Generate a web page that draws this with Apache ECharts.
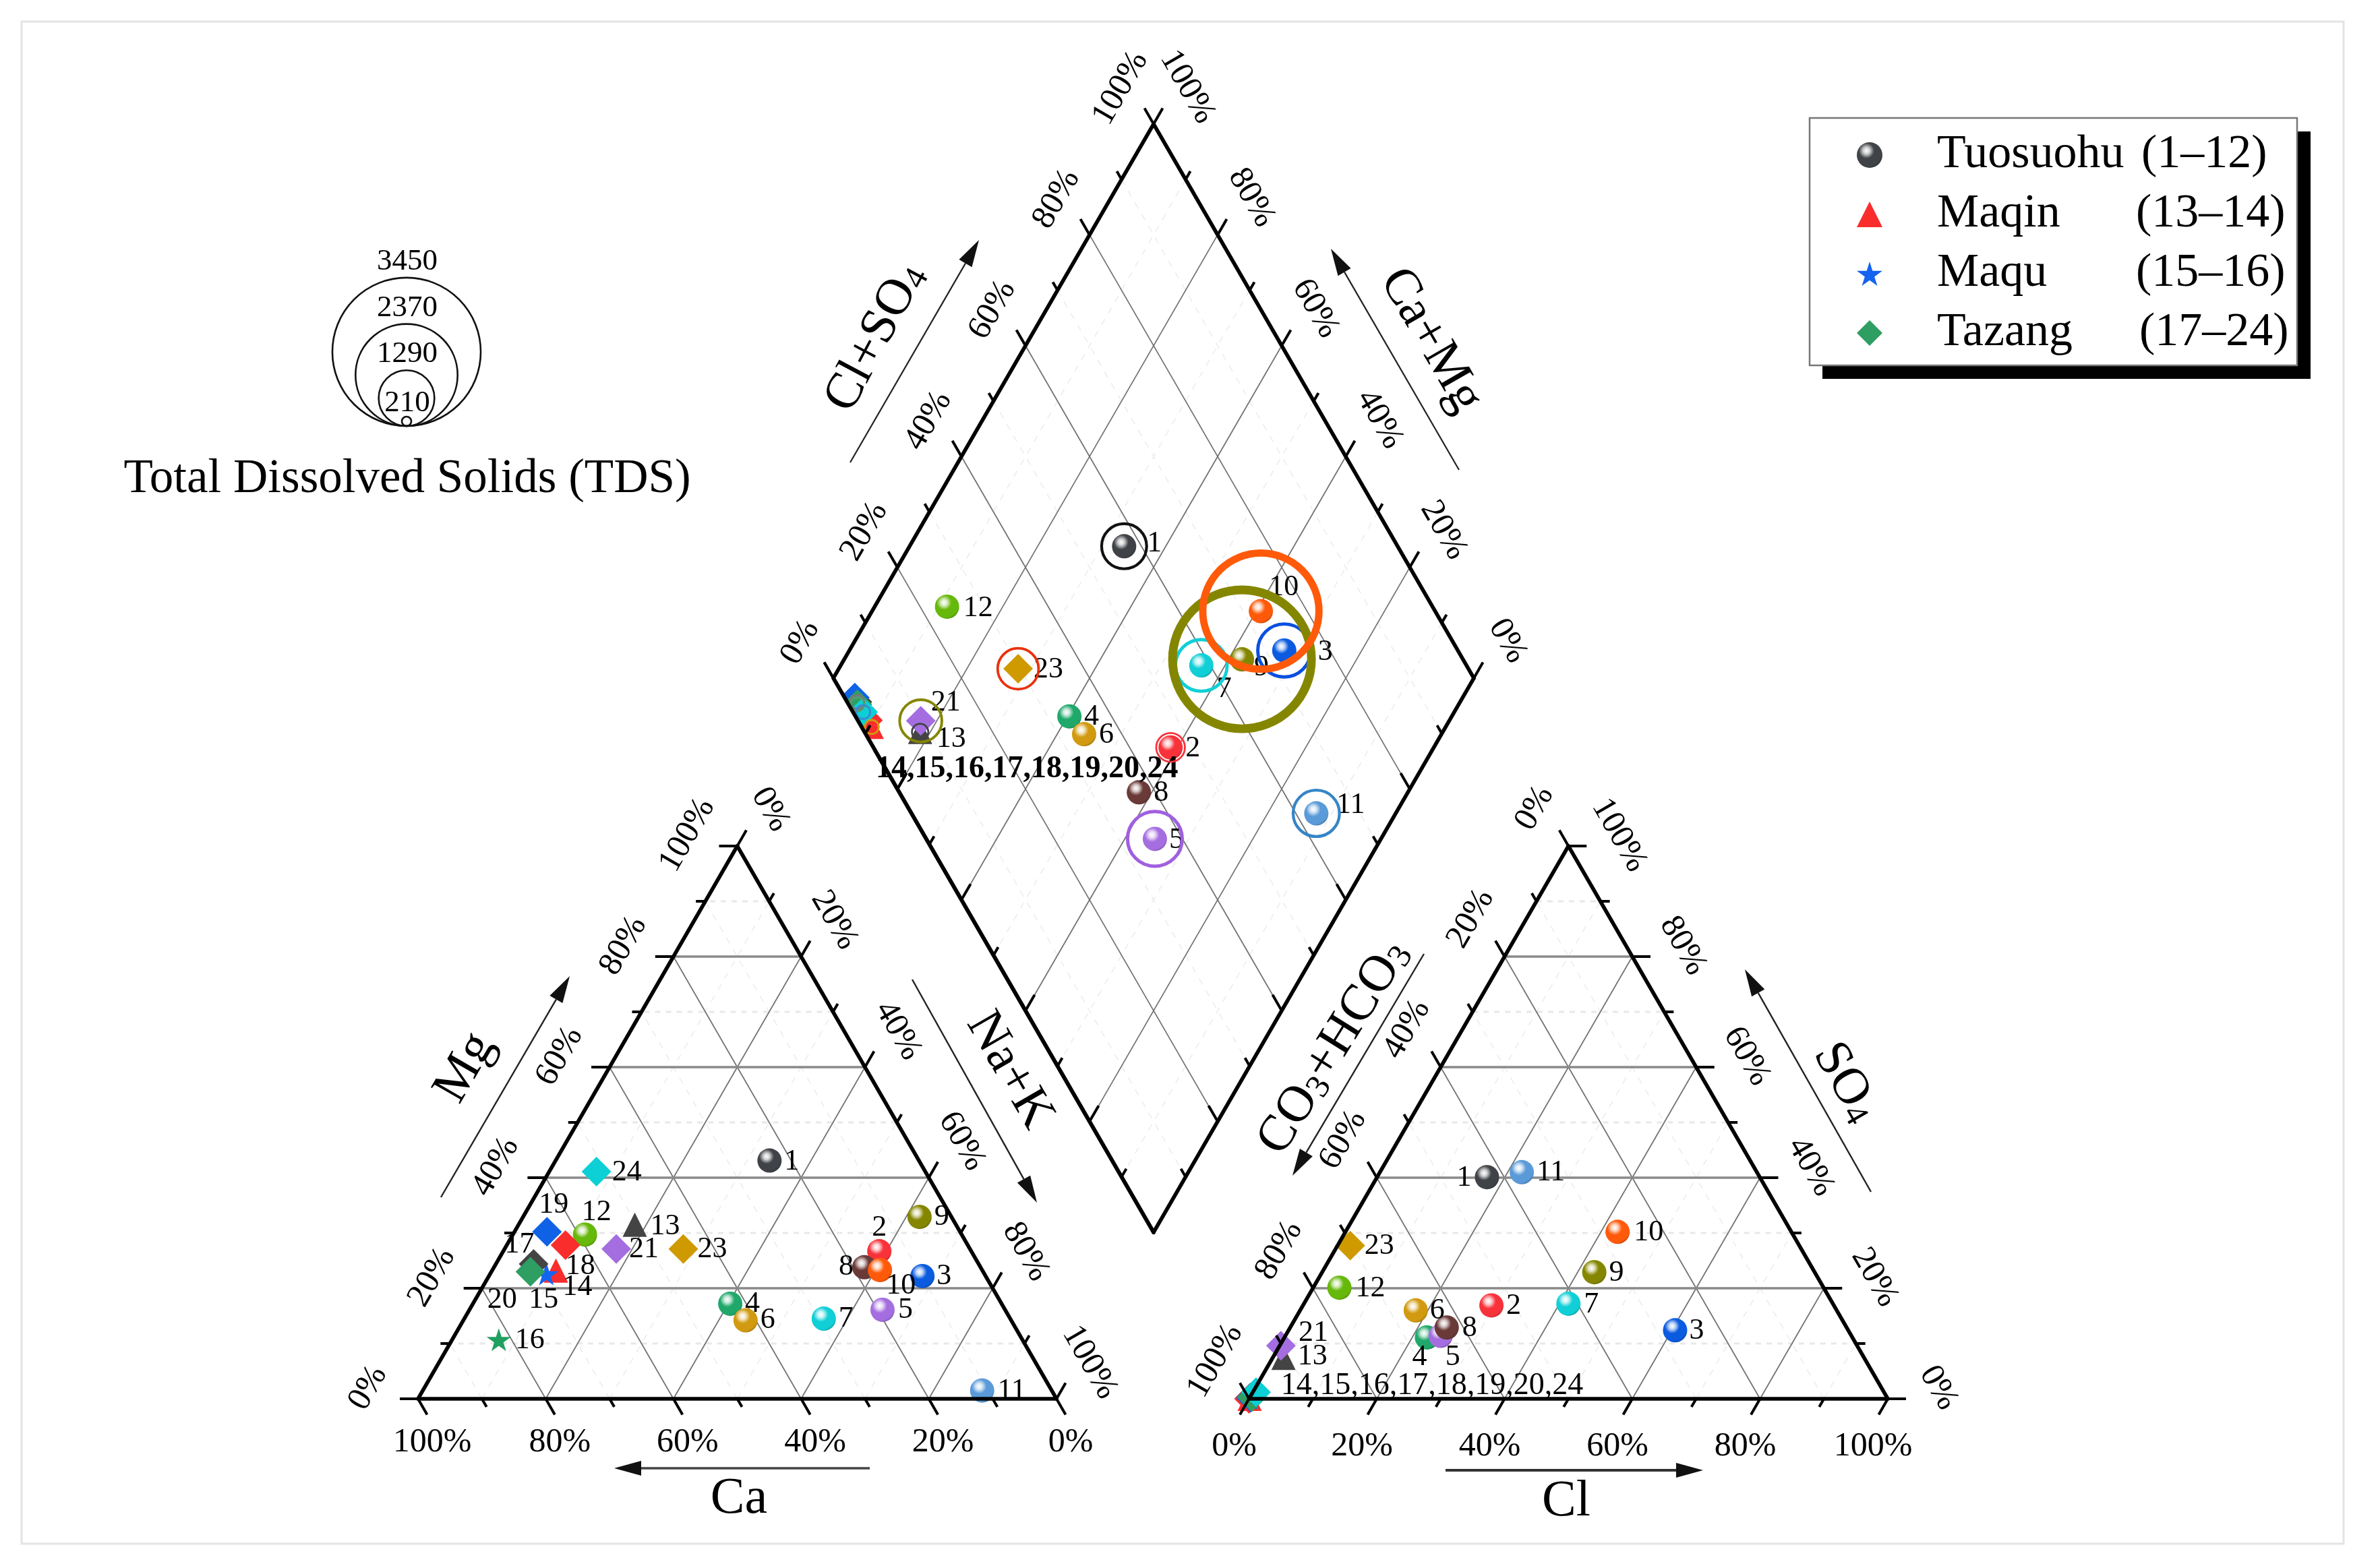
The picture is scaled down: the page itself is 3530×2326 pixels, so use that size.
<!DOCTYPE html>
<html><head><meta charset="utf-8">
<style>html,body{margin:0;padding:0;background:#fff}#c{width:3530px;height:2326px}</style>
<script src="https://cdn.jsdelivr.net/npm/echarts@6/dist/echarts.min.js"></script>
</head><body><div id="c"></div>
<script>
// ---------- values ----------
const sampleIds = [1,2,3,4,5,6,7,8,9,10,11,12,13,14,15,16,17,18,19,20,21,23,24];
const caPct  = [23.4,14.4,9.9,42.5,19.2,41.6,29.2,18.2,5.0,16.0,10.9,59.0,50.3,66.8,68.6,82.0,69.7,63.0,64.7,70.9,55.4,44.9,51.5];
const mgPct  = [43.1,26.7,22.2,17.2,16.1,14.2,14.5,23.8,32.9,23.3,1.5,29.7,31.5,23.2,22.6,10.7,24.4,27.8,30.2,23.0,27.1,27.1,41.1];
const clPct  = [17.2,29.5,60.5,22.3,24.3,18.1,41.4,24.5,42.6,42.6,22.2,4.1,1.7,0.1,0.1,0.2,0.1,0.0,0.2,0.3,0.2,2.0,0.5];
const so4Pct = [40.1,16.9,12.4,11.1,11.4,16.0,17.2,12.9,22.9,30.2,41.0,20.1,7.4,0.0,0.1,0.2,0.2,0.0,0.2,0.3,9.6,27.7,1.2];
const clSo4Pct = [57.3,46.4,72.9,33.4,35.7,34.1,58.6,37.4,65.5,72.8,63.2,24.2,8.7,1.6,1.6,1.6,1.6,1.6,1.6,1.4,9.8,29.7,1.6];
const caMgPct  = [66.5,41.1,32.1,59.7,35.3,55.8,43.7,42.0,37.9,39.3,12.4,88.7,81.6,89.6,91.2,92.7,94.1,90.8,94.9,93.9,82.5,72.0,92.3];
const tdsMgL = [1040,660,1225,null,1265,null,1195,null,3230,2700,1070,null,370,315,null,null,315,null,null,315,975,945,315];
const tdsLegendValues = [3450,2370,1290,210];
const tickLabels = ['0%','20%','40%','60%','80%','100%'];
const regionNames = ['Tuosuohu','Maqin','Maqu','Tazang'];
const regionRanges = ['(1–12)','(13–14)','(15–16)','(17–24)'];
const regionFirstId = [1,13,15,17];
const regionLastId  = [12,14,16,24];
const groupLabelText = '14,15,16,17,18,19,20,24';

// ---------- styles ----------
const FONT = '"Liberation Serif","Times New Roman",serif';
const markColor = {1:'#3f4246',2:'#f8323a',3:'#0a5be0',4:'#1fa86a',5:'#a56ee0',6:'#d19a10',7:'#10cfd6',8:'#6a3a38',9:'#858600',10:'#ff5a0a',11:'#5a9ad8',12:'#66b80a',
  13:'#444444',14:'#fa2d2d',15:'#1464f0',16:'#20a060',17:'#444444',18:'#fa2d2d',19:'#0f62e6',20:'#2f9e62',21:'#a56ee0',23:'#cf9a00',24:'#0cd0d6'};
const ringColor = {1:'#111111',2:'#f8323a',3:'#0a50e0',5:'#a060e0',7:'#10cfd6',9:'#858600',10:'#ff5a0a',11:'#3585c8',13:'#444444',14:'#d09a10',17:'#777777',20:'#5a9a70',21:'#858600',23:'#e8320c',24:'#3a8ad0'};
const labelOffsetLeft = {1:[33,2],2:[0,-35],3:[32,0],4:[33,0],5:[34,0],6:[33,0],7:[33,0],8:[-27,0],9:[33,0],10:[31,23],11:[44,1],12:[17,-33],13:[45,3],14:[32,25],15:[-4,39],16:[46,1],17:[-21,-28],18:[22,31],19:[10,-40],20:[-42,42],21:[41,1],23:[43,1],24:[45,1]};
const labelOffsetRight = {1:[-34,1],2:[33,1],3:[32,1],4:[-11,29],5:[18,32],6:[32,1],7:[34,1],8:[34,1],9:[33,1],10:[46,1],11:[43,1],12:[46,1],13:[43,-2],21:[48,-19],23:[43,1]};
const labelOffsetDiamond = {1:[45,-4],2:[33,2],3:[61,3],4:[33,1],5:[32,2],6:[33,1],7:[34,35],8:[33,1],9:[29,12],10:[34,-35],11:[51,-12],12:[46,2],13:[46,11],21:[37,-27],23:[45,1]};
const GROUP_OFFSET_RIGHT = [261,-9], GROUP_OFFSET_DIAMOND = [243,85];
const STAR = 'path://M50,0 L61,35 L98,35 L68,57 L79,91 L50,70 L21,91 L32,57 L2,35 L39,35 Z';
const regionSymbol = ['circle','triangle',STAR,'diamond'];
const regionSize = [36,36,36,44];
const legendNameWidth = [303,295,295,300];

function shade(hex,f){ // f<0 darker, f>0 lighter
  const n=parseInt(hex.slice(1),16);let c=[n>>16,(n>>8)&255,n&255];
  c=c.map(v=>Math.round(f<0?v*(1+f):v+(255-v)*f));
  return 'rgb('+c.join(',')+')';
}
function sphere(hex){return {type:'radial',x:0.38,y:0.33,r:0.72,colorStops:[
  {offset:0,color:'#ffffff'},{offset:0.18,color:shade(hex,0.75)},{offset:0.42,color:hex},{offset:0.85,color:hex},{offset:1,color:shade(hex,-0.25)}]};}
const tdsRadius = t => 0.0318*t+0.33;

// ---------- projections: percent to the axes of each panel ----------
const projCation = (ca,mg)=>[100-ca-mg/2,mg];
const projAnion  = (cl,so4)=>[cl+so4/2,so4];
const projDiamond= (a,b)=>[a-b,(a+b)/2];
const GRID_L=0,GRID_R=1,GRID_D=2,GRID_P=3;
const major=[20,40,60,80], minor=[10,30,50,70,90], allTicks=[0,10,20,30,40,50,60,70,80,90,100], labelTicks=[0,20,40,60,80,100];

function lineSeries(g,rows,style,z){
  return {type:'custom',coordinateSystem:'cartesian2d',xAxisIndex:g,yAxisIndex:g,silent:true,z,
    encode:{x:[0,2],y:[1,3]},data:rows,
    renderItem(p,api){const a=api.coord([api.value(0),api.value(1)]),b=api.coord([api.value(2),api.value(3)]);
      return {type:'line',shape:{x1:a[0],y1:a[1],x2:b[0],y2:b[1]},style:Object.assign({fill:null},style)};}};
}
function tickSeries(g,rows,z){ // rows: x,y,dxPx,dyPx
  return {type:'custom',coordinateSystem:'cartesian2d',xAxisIndex:g,yAxisIndex:g,silent:true,z,
    encode:{x:0,y:1},data:rows,
    renderItem(p,api){const a=api.coord([api.value(0),api.value(1)]);
      return {type:'line',shape:{x1:a[0],y1:a[1],x2:a[0]+api.value(2),y2:a[1]+api.value(3)},style:{stroke:'#000',lineWidth:4}};}};
}
function textSeries(g,rows,texts,dx,dy,deg,size){
  return {type:'custom',coordinateSystem:'cartesian2d',xAxisIndex:g,yAxisIndex:g,silent:true,z:7,
    encode:{x:0,y:1},data:rows,
    renderItem(p,api){const a=api.coord([api.value(0),api.value(1)]);
      return {type:'text',x:a[0]+dx,y:a[1]+dy,rotation:deg*Math.PI/180,
        style:{text:texts[p.dataIndex],fill:'#000',font:size+'px '+FONT,align:'center',verticalAlign:'middle'}};}};
}
const M=27,N=14,C=Math.cos(Math.PI/3),S=Math.sin(Math.PI/3);
const tickLen=t=>t%20===0?M:N;

const series=[];
const MAJ={stroke:'#707070',lineWidth:1.7}, MIN={stroke:'#eeeeee',lineWidth:1.7,lineDash:[10,10]};
const HMAJ={stroke:'#8a8a8a',lineWidth:3.6}, HMIN={stroke:'#e8e8e8',lineWidth:3,lineDash:[8,8]};

function triangleGrid(g,proj){
  // proj(u,v): u = Ca or Cl, v = Mg or SO4
  const diag=ks=>{const r=[];ks.forEach(k=>{
      r.push([...proj(k,0),...proj(k,100-k)]);                       // u = k
      r.push([...proj(100-k,0),...proj(0,100-k)]);                   // third component = k
    });return r;};
  const horiz=ks=>ks.map(k=>[...proj(0,k),...proj(100-k,k)]);
  series.push(lineSeries(g,diag(minor),MIN,2));
  series.push(lineSeries(g,horiz(minor),HMIN,2));
  series.push(lineSeries(g,diag(major),MAJ,2));
  series.push(lineSeries(g,horiz(major),HMAJ,2));
  series.push(lineSeries(g,[[...proj(100,0),...proj(0,0)],[...proj(100,0),...proj(0,100)],[...proj(0,0),...proj(0,100)]],{stroke:'#000',lineWidth:5.5,lineCap:'round'},5));
}
triangleGrid(GRID_L,projCation);
triangleGrid(GRID_R,projAnion);

// diamond grid
(function(){
  const rows=ks=>{const r=[];ks.forEach(k=>{r.push([...projDiamond(k,0),...projDiamond(k,100)]);r.push([...projDiamond(0,k),...projDiamond(100,k)]);});return r;};
  series.push(lineSeries(GRID_D,rows(minor),MIN,2));
  series.push(lineSeries(GRID_D,rows(major),MAJ,2));
  series.push(lineSeries(GRID_D,[[...projDiamond(0,100),...projDiamond(100,100)],[...projDiamond(100,100),...projDiamond(100,0)],[...projDiamond(100,0),...projDiamond(0,0)],[...projDiamond(0,0),...projDiamond(0,100)]],{stroke:'#000',lineWidth:5.5,lineCap:'round'},5));
  // markers are cut along the left edge of the diamond
  const P0=projDiamond(0,100),P1=projDiamond(0,87);
  series.push({type:'custom',coordinateSystem:'cartesian2d',xAxisIndex:GRID_D,yAxisIndex:GRID_D,silent:true,z:6.5,
    encode:{x:[0,2],y:[1,3]},data:[[...P0,...P1]],
    renderItem(p,api){const a=api.coord([api.value(0),api.value(1)]),b=api.coord([api.value(2),api.value(3)]);
      return {type:'polygon',shape:{points:[a,b,[b[0]-70,b[1]],[a[0]-70,a[1]]]},style:{fill:'#fff'}};}});
})();

// ticks
const tL=[],tR=[],tD=[];
allTicks.forEach(t=>{const L=tickLen(t);
  tL.push([...projCation(100-t,0),L*C,L*S]);          // base
  tL.push([...projCation(100-t,t),-L,0]);             // left side
  tL.push([...projCation(0,100-t),L*C,-L*S]);         // right side
  tR.push([...projAnion(t,0),-L*C,L*S]);              // base
  tR.push([...projAnion(0,t),-L*C,-L*S]);             // left side
  tR.push([...projAnion(100-t,t),L,0]);               // right side
  tD.push([...projDiamond(t,100),-L*C,-L*S]);         // upper left
  tD.push([...projDiamond(100,t),L*C,-L*S]);          // upper right
  tD.push([...projDiamond(0,t),L*C,-L*S]);            // lower left
  tD.push([...projDiamond(t,0),-L*C,-L*S]);           // lower right
});
series.push(tickSeries(GRID_L,tL,5),tickSeries(GRID_R,tR,5),tickSeries(GRID_D,tD,5));
// edges and ticks of the diamond's left corner sit above the cut-off mask
series.push(lineSeries(GRID_D,[[...projDiamond(0,100),...projDiamond(0,0)]],{stroke:'#000',lineWidth:5.5,lineCap:'round'},6.6));
series.push(tickSeries(GRID_D,allTicks.filter(t=>t>=80).map(t=>[...projDiamond(0,t),tickLen(t)*C,-tickLen(t)*S]),6.6));
series.push(tickSeries(GRID_D,[[...projDiamond(0,100),-M*C,-M*S]],6.6));

// tick labels
const pct=tickLabels;
series.push(textSeries(GRID_L,labelTicks.map(t=>projCation(t,0)),pct,21,65,0,50));
series.push(textSeries(GRID_L,labelTicks.map(t=>projCation(100-t,t)),pct,-74,-16,60,50));
series.push(textSeries(GRID_L,labelTicks.map(t=>projCation(0,100-t)),pct,49,-54,-60,50));
series.push(textSeries(GRID_R,labelTicks.map(t=>projAnion(t,0)),pct,-22,71,0,50));
series.push(textSeries(GRID_R,labelTicks.map(t=>projAnion(0,100-t)),pct,-50,-56,60,50));
series.push(textSeries(GRID_R,labelTicks.map(t=>projAnion(100-t,t)),pct,75,-16,-60,50));
series.push(textSeries(GRID_D,labelTicks.map(t=>projDiamond(t,100)),pct,-49,-53,60,50));
series.push(textSeries(GRID_D,labelTicks.map(t=>projDiamond(100,t)),pct,50,-55,-60,50));

// sample marks
function marks(g,xyOf,offsets,groupOffset,groupBold){
  regionNames.forEach((rn,ri)=>{
    const data=[];
    sampleIds.forEach((id,i)=>{
      if(id<regionFirstId[ri]||id>regionLastId[ri])return;
      const color=ri===0?sphere(markColor[id]):markColor[id];
      let label={show:false};
      const base={show:true,position:'inside',color:'#000',fontFamily:FONT,fontSize:44};
      if(offsets[id]) label=Object.assign(base,{offset:offsets[id],formatter:String(id)});
      else if(id===24&&groupOffset) label=Object.assign(base,{offset:groupOffset,formatter:groupLabelText,fontSize:46,fontWeight:groupBold?'bold':'normal'});
      data.push({name:String(id),value:xyOf(i),itemStyle:{color,opacity:1},label});
    });
    series.push({type:'scatter',name:rn,xAxisIndex:g,yAxisIndex:g,z:4,silent:true,
      symbol:regionSymbol[ri],symbolSize:regionSize[ri],symbolKeepAspect:true,
      itemStyle:{color:ri===0?sphere('#3f4246'):['','#fa2d2d','#1464f0','#2f9e62'][ri],opacity:1},
      data});
  });
}
marks(GRID_L,i=>projCation(caPct[i],mgPct[i]),labelOffsetLeft,null,false);
marks(GRID_R,i=>projAnion(clPct[i],so4Pct[i]),labelOffsetRight,GROUP_OFFSET_RIGHT,false);
marks(GRID_D,i=>projDiamond(clSo4Pct[i],caMgPct[i]),labelOffsetDiamond,GROUP_OFFSET_DIAMOND,true);

// TDS rings on the diamond
(function(){
  const data=[];
  sampleIds.forEach((id,i)=>{
    if(tdsMgL[i]==null)return;
    const r=tdsRadius(tdsMgL[i]);
    data.push({name:String(id),value:projDiamond(clSo4Pct[i],caMgPct[i]),symbolSize:2*r,
      itemStyle:{color:'rgba(0,0,0,0)',opacity:1,borderColor:ringColor[id],borderWidth:Math.max(2.8,r*0.125)}});
  });
  series.push({type:'scatter',name:'TDS',xAxisIndex:GRID_D,yAxisIndex:GRID_D,z:6,silent:true,symbol:'circle',data});
})();

// TDS scale circles (stacked on one base point, in the page-pixel grid)
const TDS_X=603, TDS_BASE=632;
series.push({type:'scatter',name:'TDS scale',xAxisIndex:GRID_P,yAxisIndex:GRID_P,z:6,silent:true,symbol:'circle',
  data:tdsLegendValues.map(t=>({value:[TDS_X,TDS_BASE-tdsRadius(t)],symbolSize:2*tdsRadius(t),
    itemStyle:{color:'rgba(0,0,0,0)',opacity:1,borderColor:'#111',borderWidth:2.6}}))});

// ---------- page furniture ----------
function arrow(x1,y1,x2,y2,w,col){
  const L=Math.hypot(x2-x1,y2-y1),ux=(x2-x1)/L,uy=(y2-y1)/L,h=40,hw=11;
  const bx=x2-ux*h,by=y2-uy*h;
  return [
   {type:'line',z:3,silent:true,shape:{x1,y1,x2:bx,y2:by},style:{stroke:col,lineWidth:w}},
   {type:'polygon',z:3,silent:true,shape:{points:[[x2,y2],[bx-uy*hw,by+ux*hw],[bx+uy*hw,by-ux*hw]]},style:{fill:'#111'}}
  ];
}
function txt(x,y,text,size,deg,extra){
  return Object.assign({type:'text',z:8,silent:true,x,y,rotation:(deg||0)*Math.PI/180,
    style:Object.assign({text,font:size+'px '+FONT,fill:'#000',align:'center',verticalAlign:'middle'},extra||{})});
}
const subRich={a:{fontSize:76,fontFamily:FONT,fill:'#000',color:'#000'},s:{fontSize:50,fontFamily:FONT,fill:'#000',color:'#000',padding:[26,0,0,0]}};
const tdsLabelY=[388,457,525,598];
const graphic=[
  {type:'rect',z:0,silent:true,shape:{x:32,y:32,width:3444,height:2258},style:{fill:'none',stroke:'#e4e4e4',lineWidth:3}},
  {type:'rect',z:1,silent:true,shape:{x:2703,y:195,width:724,height:367},style:{fill:'#000'}},
  {type:'rect',z:1,silent:true,shape:{x:2684,y:175,width:723,height:367},style:{fill:'#fff',stroke:'#777',lineWidth:2.5}},
  ...arrow(654,1776,845,1448,2.4,'#222'),
  ...arrow(1353,1453,1538,1784,2.4,'#222'),
  ...arrow(1290,2178,911,2178,3.6,'#444'),
  ...arrow(2144,2181,2526,2181,4,'#333'),
  ...arrow(2112,1415,1917,1744,2.4,'#222'),
  ...arrow(2775,1768,2588,1438,2.4,'#222'),
  ...arrow(1261,686,1452,356,2.2,'#222'),
  ...arrow(2164,697,1974,369,2.2,'#222'),
  txt(690,1584,'Mg',76,60),
  txt(1497,1588,'Na+K',76,-60),
  txt(1096,2224,'Ca',76,0),
  txt(2323,2228,'Cl',76,0),
  txt(1299,501,'{a|Cl+SO}{s|4}',76,62,{rich:subRich}),
  txt(2122,505,'Ca+Mg',76,-60),
  txt(1979,1554,'{a|CO}{s|3}{a|+HCO}{s|3}',76,58,{rich:subRich}),
  txt(2737,1606,'{a|SO}{s|4}',76,-60,{rich:subRich}),
  txt(604,711,'Total Dissolved Solids (TDS)',71,0),
  ...tdsLegendValues.map((t,i)=>txt(604,tdsLabelY[i],String(t),45,0))
];

const axisOff={show:false,splitLine:{show:false},axisLine:{show:false},axisTick:{show:false},axisLabel:{show:false},type:'value'};
const ax=(o)=>Object.assign({},axisOff,o);
const legendRich={r:{fontFamily:FONT,fontSize:70,color:'#000',lineHeight:70}};
legendNameWidth.forEach((w,i)=>{legendRich['n'+i]={fontFamily:FONT,fontSize:70,color:'#000',width:w,padding:[0,0,0,76],lineHeight:70,align:'left'};});
const chart=echarts.init(document.getElementById('c'),null,{width:3530,height:2326});
chart.setOption({
  animation:false,backgroundColor:'#fff',tooltip:{show:false},
  grid:[
    {left:620,top:1255,width:947,height:820},
    {left:1852.5,top:1255,width:947.5,height:820},
    {left:1236,top:184,width:950,height:1644},
    {left:0,top:0,width:3530,height:2326}
  ],
  xAxis:[ax({gridIndex:0,min:0,max:100}),ax({gridIndex:1,min:0,max:100}),ax({gridIndex:2,min:-100,max:100}),ax({gridIndex:3,min:0,max:3530})],
  yAxis:[ax({gridIndex:0,min:0,max:100}),ax({gridIndex:1,min:0,max:100}),ax({gridIndex:2,min:0,max:100}),ax({gridIndex:3,min:0,max:2326,inverse:true})],
  legend:{show:true,selectedMode:false,orient:'vertical',left:2749,top:190,itemWidth:38,itemHeight:38,itemGap:18,
    data:regionNames.map((n,i)=>({name:n,icon:i===2?STAR:regionSymbol[i]})),
    formatter:n=>{const i=regionNames.indexOf(n);return '{n'+i+'|'+n+'}{r|'+regionRanges[i]+'}';},
    textStyle:{fontFamily:FONT,fontSize:70,color:'#000',rich:legendRich}},
  graphic:{elements:graphic},
  series
});
</script></body></html>
